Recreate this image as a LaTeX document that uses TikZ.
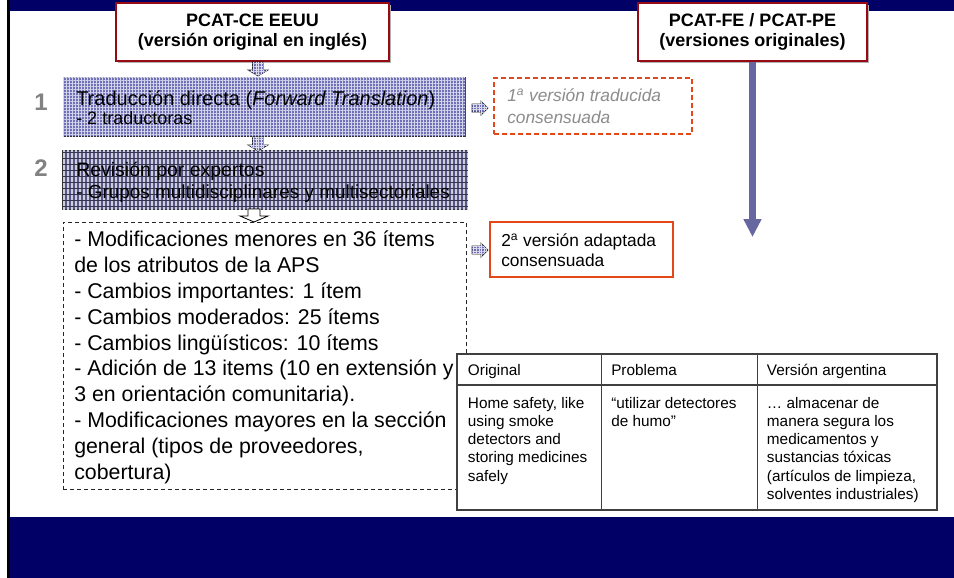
\documentclass[tikz,border=0pt]{standalone}
\usepackage{fontspec}
\setmainfont{Liberation Sans}
\usetikzlibrary{patterns.meta,arrows.meta,shadows,calc}

\newdimen\pxu \pxu=0.75pt

\definecolor{navy}{RGB}{0,0,102}
\definecolor{boxred}{RGB}{150,10,20}
\definecolor{orangeline}{RGB}{228,72,24}
\definecolor{lavender}{RGB}{112,112,184}
\definecolor{slate}{RGB}{88,88,136}
\definecolor{arrowblue}{RGB}{102,102,160}
\definecolor{stepgray}{RGB}{130,130,130}
\definecolor{softgray}{RGB}{140,140,140}

\tikzset{
  sourcebox/.style={draw=boxred, line width=2\pxu, fill=white, align=center,
    font=\fontsize{13.5}{15.5}\selectfont\bfseries,
    drop shadow={shadow xshift=1.5\pxu, shadow yshift=-1.5\pxu, fill=black!30, opacity=1}},
  gridbox/.style={draw=black!80, line width=0.8\pxu, fill=lavender,
    postaction={pattern={Hatch[angle=0,distance=2.25pt,line width=0.4pt]}, pattern color=white!70!lavender}},
  stripebox/.style={draw=black!80, line width=0.8\pxu, fill=slate,
    postaction={pattern={Lines[angle=90,distance=3pt,line width=0.8pt]}, pattern color=white!70!slate},
    postaction={pattern={Lines[angle=0,distance=4.5pt,line width=0.4pt]}, pattern color=slate!60!black}},
  smallarrow/.style={draw=black!85, line width=0.7\pxu, fill=lavender,
    postaction={pattern={Hatch[angle=0,distance=1.9pt,line width=0.4pt]}, pattern color=white!75!lavender}},
  openarrow/.style={draw=black, line width=0.8\pxu, fill=white},
  steptext/.style={inner sep=0, align=left, anchor=west},
  stepnum/.style={inner sep=0, text=stepgray, font=\fontsize{18}{18}\selectfont\bfseries},
  dashbox/.style={draw=black!85, line width=1\pxu, dash pattern=on 4\pxu off 3\pxu, fill=white},
  versiondashed/.style={draw=orangeline, line width=1.3\pxu, dash pattern=on 5\pxu off 3\pxu, fill=white},
  versionsolid/.style={draw=orangeline, line width=1.5\pxu, fill=white},
  bigarrow/.style={draw=arrowblue, line width=6.5\pxu, -{Triangle[width=12.75pt,length=13.5pt]}},
  tablecell/.style={inner sep=0, align=left, font=\fontsize{11.5}{13.65}\selectfont},
  tablerule/.style={draw=black!75, line width=1.2\pxu},
  pics/downarrow/.style={code={
    \draw[smallarrow] (-5.5,0) -- (5.5,0) -- (5.5,8) -- (10,8) -- (0,14) -- (-10,8) -- (-5.5,8) -- cycle;}},
  pics/rightarrow/.style={code={
    \draw[smallarrow] (0,-4) -- (9,-4) -- (9,-7) -- (16,0) -- (9,7) -- (9,4) -- (0,4) -- cycle;}},
  pics/hollowarrow/.style={code={
    \draw[openarrow] (-6,0) -- (6,0) -- (6,7) -- (14,7) -- (0,13) -- (-14,7) -- (-6,7) -- cycle;}},
}

\begin{document}
\begin{tikzpicture}[x=0.75pt, y=-0.75pt]
  \useasboundingbox (0,0) rectangle (954,578);

  % slide frame: top band, bottom band, left rule
  \fill[navy] (10,0) rectangle (954,10.5);
  \fill[navy] (10,517) rectangle (954,578);
  \draw[line width=2.5\pxu] (8.5,0) -- (8.5,578);

  % source instruments
  \node[sourcebox, minimum width=273\pxu, minimum height=58\pxu] (ce) at (252.5,32)
    {PCAT-CE EEUU\\(versión original en inglés)};
  \node[sourcebox, minimum width=229\pxu, minimum height=58\pxu] (fe) at (752.5,32)
    {PCAT-FE / PCAT-PE\\(versiones originales)};

  % step 1: forward translation
  \node[gridbox, minimum width=402\pxu, minimum height=59\pxu] (step1) at (264,107) {};
  \node[steptext, font=\fontsize{15}{14.25}\selectfont] (step1text) at (76,108)
    {Traducción directa (\textit{Forward Translation})\\{\fontsize{13.5}{14.25}\selectfont - 2 traductoras}};
  \node[stepnum] (num1) at (41,102) {1};

  % step 2: expert review
  \node[stripebox, minimum width=405\pxu, minimum height=59\pxu] (step2) at (265.3,179.5) {};
  \node[steptext, font=\fontsize{14.6}{16.3}\selectfont] (step2text) at (76,182)
    {Revisión por expertos\\{\fontsize{14.2}{16.3}\selectfont - Grupos multidisciplinares y multisectoriales}};
  \node[stepnum] (num2) at (41,168) {2};

  % outcome of the review
  \node[dashbox, minimum width=403\pxu, minimum height=267\pxu] (mods) at (264.5,355.5) {};
  \node[steptext, font=\fontsize{16}{19.35}\selectfont] (modstext) at (74,357.4)
    {- Modificaciones menores en 36 ítems\\
     de los atributos de la APS\\
     - Cambios importantes: 1 ítem\\
     - Cambios moderados: 25 ítems\\
     - Cambios lingüísticos: 10 ítems\\
     - Adición de 13 items (10 en extensión y\\
     3 en orientación comunitaria).\\
     - Modificaciones mayores en la sección\\
     general (tipos de proveedores,\\
     cobertura)};

  % flow arrows down the left column
  \pic at (258,62) {downarrow};
  \pic at (258,137) {downarrow};
  \pic at (254,209) {hollowarrow};

  % consensus versions
  \pic at (472,108) {rightarrow};
  \node[versiondashed, minimum width=198\pxu, minimum height=56\pxu] (v1) at (593,106) {};
  \node[steptext, text=softgray, font=\fontsize{13}{16.5}\selectfont\itshape] (v1text) at (507,106.5)
    {1\textsuperscript{a} versión traducida\\consensuada};

  \pic at (472,250) {rightarrow};
  \node[versionsolid, minimum width=183\pxu, minimum height=55\pxu] (v2) at (581.5,249.5) {};
  \node[steptext, font=\fontsize{13}{15}\selectfont] (v2text) at (501,250.5)
    {2\textsuperscript{a} versión adaptada\\consensuada};

  % parallel path of the other versions
  \coordinate (feend) at (753,237);
  \draw[bigarrow] (fe.south) -- (fe.south |- feend);

  % example table
  \node[draw=black!75, line width=1.2\pxu, fill=white, minimum width=480\pxu,
        minimum height=156\pxu, inner sep=0] (tbl) at (697,432) {};
  \coordinate (hdr) at (0,385);
  \coordinate (colA) at (601.5,0);
  \coordinate (colB) at (757.3,0);
  \draw[tablerule] (tbl.west |- hdr) -- (tbl.east |- hdr);
  \draw[tablerule] (colA |- tbl.north) -- (colA |- tbl.south);
  \draw[tablerule] (colB |- tbl.north) -- (colB |- tbl.south);

  \node[tablecell, anchor=base west] (h1) at (467.7,375) {Original};
  \node[tablecell, anchor=base west] (h2) at (611,375) {Problema};
  \node[tablecell, anchor=base west] (h3) at (766.7,375) {Versión argentina};

  \node[tablecell, anchor=north west] (b1) at (467.7,397)
    {Home safety, like\\using smoke\\detectors and\\storing medicines\\safely};
  \node[tablecell, anchor=north west] (b2) at (611,397)
    {“utilizar detectores\\de humo”};
  \node[tablecell, anchor=north west] (b3) at (766.7,397)
    {… almacenar de\\manera segura los\\medicamentos y\\sustancias tóxicas\\(artículos de limpieza,\\solventes industriales)};
\end{tikzpicture}
\end{document}
